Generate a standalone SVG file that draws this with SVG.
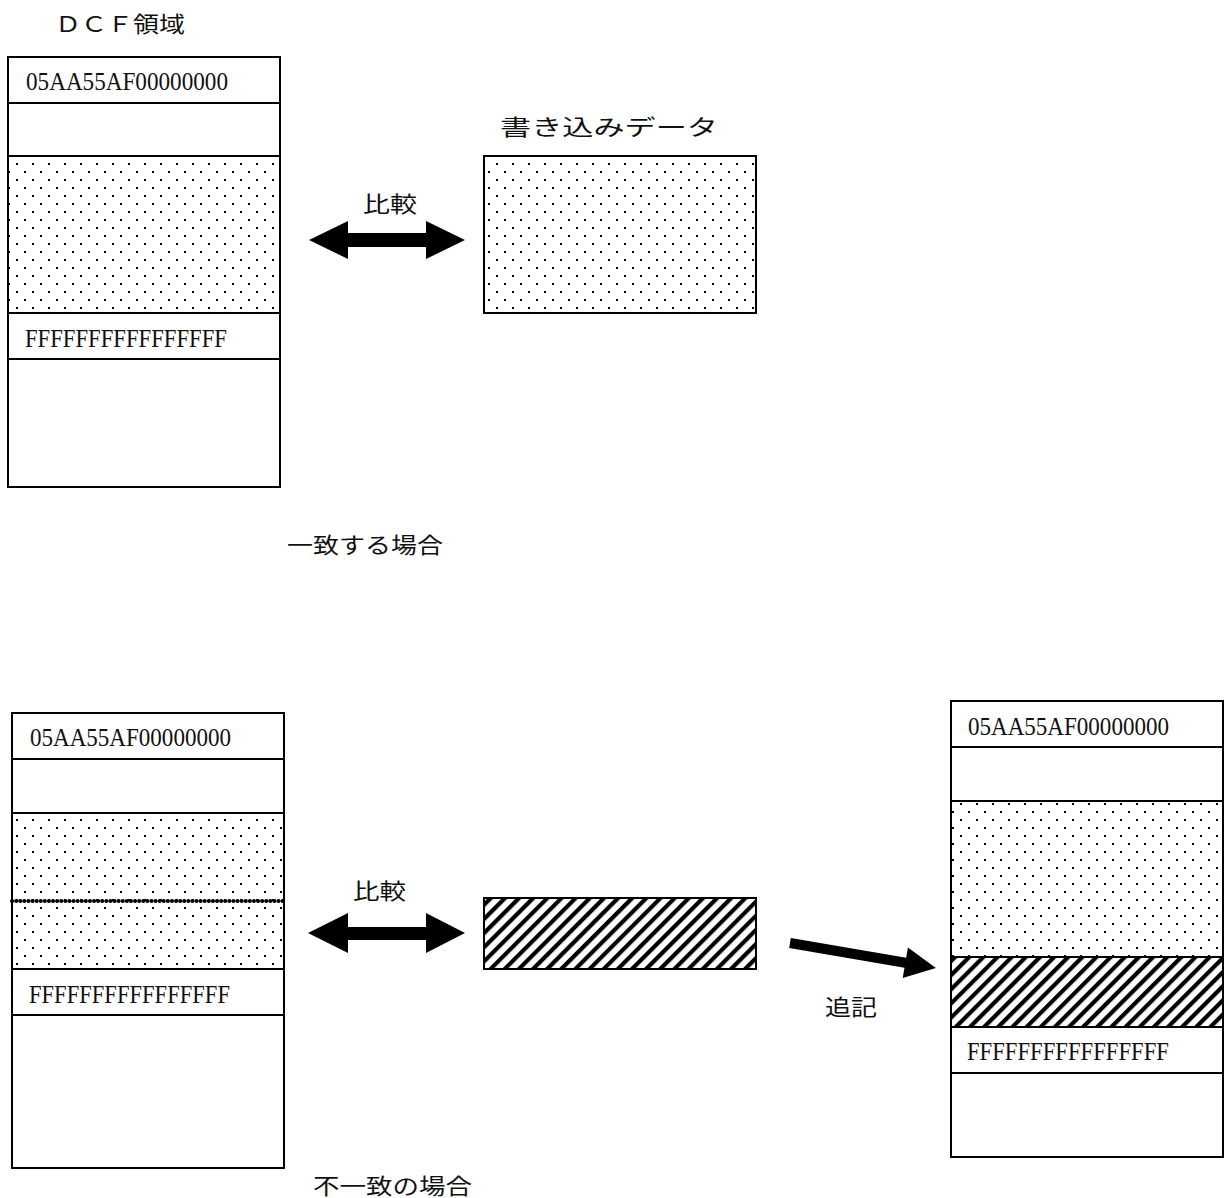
<svg xmlns="http://www.w3.org/2000/svg" width="1226" height="1198" viewBox="0 0 1226 1198">
<style>
.box{fill:none;stroke:#000;stroke-width:2}
.sep{stroke:#000;stroke-width:2}
.hex{font-family:"Liberation Serif",serif;font-size:25px;fill:#111}
.jp{font-family:"Noto Sans CJK JP",sans-serif;font-size:22px;fill:#111}
.arrow{fill:#000}
</style>
<defs>
<pattern id="dots" patternUnits="userSpaceOnUse" width="16" height="16" x="0" y="3">
<rect x="0" y="0" width="2" height="2" fill="#000"/>
<rect x="8" y="8" width="2" height="2" fill="#000"/>
</pattern>
<pattern id="hatch" patternUnits="userSpaceOnUse" width="10" height="10" patternTransform="rotate(45)">
<rect x="0" y="0" width="4.2" height="10" fill="#000"/>
</pattern>
</defs>
<rect x="0" y="0" width="1226" height="1198" fill="#fff"/>

<g id="title">
<text class="jp" x="55" y="32" textLength="130" lengthAdjust="spacingAndGlyphs">ＤＣＦ領域</text>
</g>

<g id="dcf-match">
<rect x="8" y="156" width="272" height="157" fill="url(#dots)"/>
<rect class="box" x="8" y="57" width="272" height="430"/>
<line class="sep" x1="8" y1="103" x2="280" y2="103"/>
<line class="sep" x1="8" y1="156" x2="280" y2="156"/>
<line class="sep" x1="8" y1="313" x2="280" y2="313"/>
<line class="sep" x1="8" y1="359" x2="280" y2="359"/>
<text class="hex" x="26" y="90" textLength="202" lengthAdjust="spacingAndGlyphs">05AA55AF00000000</text>
<text class="hex" x="25" y="347" textLength="202" lengthAdjust="spacingAndGlyphs">FFFFFFFFFFFFFFFF</text>
</g>

<g id="write-data">
<text class="jp" x="500" y="135" font-size="24" textLength="218" lengthAdjust="spacingAndGlyphs">書き込みデータ</text>
<rect x="484" y="156" width="272" height="157" fill="url(#dots)"/>
<rect class="box" x="484" y="156" width="272" height="157"/>
</g>

<g id="label-match">
<text class="jp" x="287" y="553" textLength="156" lengthAdjust="spacingAndGlyphs">一致する場合</text>
</g>

<g id="dcf-mismatch">
<rect x="12" y="813" width="272" height="156" fill="url(#dots)"/>
<rect class="box" x="12" y="713" width="272" height="455"/>
<line class="sep" x1="12" y1="759" x2="284" y2="759"/>
<line class="sep" x1="12" y1="813" x2="284" y2="813"/>
<line class="sep" x1="12" y1="969" x2="284" y2="969"/>
<line class="sep" x1="12" y1="1015" x2="284" y2="1015"/>
<line x1="12" y1="901" x2="284" y2="901" stroke="#000" stroke-width="4" stroke-linecap="round" stroke-dasharray="0.1 4"/>
<text class="hex" x="30" y="746" textLength="201" lengthAdjust="spacingAndGlyphs">05AA55AF00000000</text>
<text class="hex" x="29" y="1003" textLength="201" lengthAdjust="spacingAndGlyphs">FFFFFFFFFFFFFFFF</text>
</g>

<g id="new-data">
<rect x="484" y="898" width="272" height="71" fill="url(#hatch)"/>
<rect class="box" x="484" y="898" width="272" height="71"/>
</g>

<g id="dcf-appended">
<rect x="951" y="801" width="272" height="156" fill="url(#dots)"/>
<rect x="951" y="957" width="272" height="70" fill="url(#hatch)"/>
<rect class="box" x="951" y="701" width="272" height="456"/>
<line class="sep" x1="951" y1="747" x2="1223" y2="747"/>
<line class="sep" x1="951" y1="801" x2="1223" y2="801"/>
<line class="sep" x1="951" y1="957" x2="1223" y2="957"/>
<line class="sep" x1="951" y1="1027" x2="1223" y2="1027"/>
<line class="sep" x1="951" y1="1073" x2="1223" y2="1073"/>
<text class="hex" x="968" y="735" textLength="201" lengthAdjust="spacingAndGlyphs">05AA55AF00000000</text>
<text class="hex" x="967" y="1060" textLength="202" lengthAdjust="spacingAndGlyphs">FFFFFFFFFFFFFFFF</text>
</g>

<g id="label-mismatch">
<text class="jp" x="313" y="1194" textLength="159" lengthAdjust="spacingAndGlyphs">不一致の場合</text>
</g>

<g id="connectors">
<polygon class="arrow" points="309,240 348,221 348,233 426,233 426,221 465,240 426,259 426,247 348,247 348,259"/>
<text class="jp" x="363" y="212" font-size="25" textLength="54" lengthAdjust="spacingAndGlyphs">比較</text>
<polygon class="arrow" points="308,933 348,913 348,927 426,927 426,913 465,933 426,953 426,940 348,940 348,953"/>
<text class="jp" x="353" y="899" font-size="25" textLength="53" lengthAdjust="spacingAndGlyphs">比較</text>
<polygon class="arrow" transform="translate(790,943) rotate(9.7)" points="0,-5 117,-5 117,-15.5 148,0 117,15.5 117,5 0,5"/>
<text class="jp" x="825" y="1015" font-size="25" textLength="52" lengthAdjust="spacingAndGlyphs">追記</text>
</g>
</svg>
